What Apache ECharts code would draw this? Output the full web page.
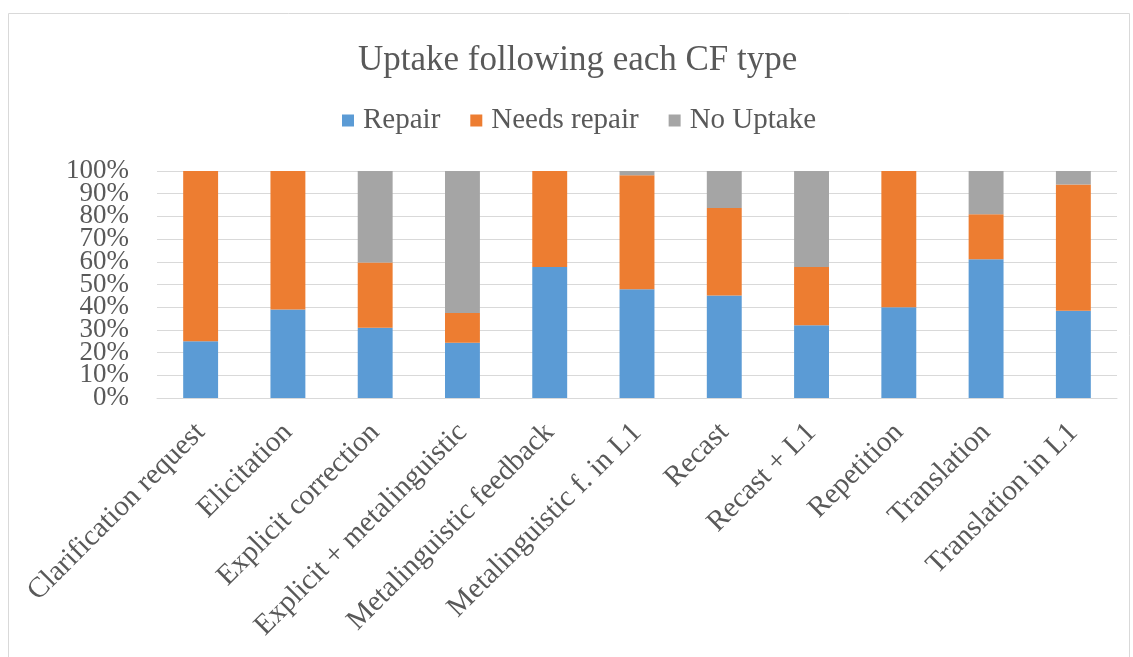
<!DOCTYPE html>
<html>
<head>
<meta charset="utf-8">
<script src="https://cdn.jsdelivr.net/npm/echarts@6/dist/echarts.min.js"></script>
<style>
  html, body { margin: 0; padding: 0; background: #fff; }
  #main { width: 1133px; height: 657px; }
</style>
</head>
<body>
<div id="main"></div>
<script>
// CF types on the x axis
var categories = [
    'Clarification request', 'Elicitation', 'Explicit correction',
    'Explicit + metalinguistic', 'Metalinguistic feedback', 'Metalinguistic f. in L1',
    'Recast', 'Recast + L1', 'Repetition', 'Translation', 'Translation in L1'
];
// shares in percent
var repair      = [25, 39, 31, 24.3, 57.7, 47.9, 45.2, 32, 40, 61.1, 38.4];
var needsRepair = [75, 61, 28.7, 13.1, 42.3, 50.2, 38.5, 25.7, 60, 19.9, 55.7];
var noUptake    = [0, 0, 40.3, 62.6, 0, 1.9, 16.3, 42.3, 0, 19, 5.9];

var serif = '"Liberation Serif", "DejaVu Serif", serif';
var textColor = '#595959';

var chart = echarts.init(document.getElementById('main'));

function makeSeries(name, data, color) {
    return {
        name: name,
        type: 'bar',
        stack: 'total',
        barWidth: '40%',
        yAxisIndex: 0,
        data: data,
        itemStyle: { color: color }
    };
}

var yLabel = {
    margin: 28,
    fontFamily: serif,
    fontSize: 27,
    color: textColor,
    formatter: '{value}%'
};

var option = {
    animation: false,
    textStyle: { fontFamily: serif },
    graphic: [{
        type: 'rect',
        shape: { x: 8.5, y: 13.5, width: 1121, height: 660 },
        style: { fill: 'none', stroke: '#d9d9d9', lineWidth: 1 },
        silent: true
    }],
    title: {
        text: 'Uptake following each CF type',
        left: 353,
        top: 38,
        textStyle: { fontFamily: serif, fontWeight: 'normal', fontSize: 35, color: textColor }
    },
    legend: {
        top: 101,
        left: 337,
        itemWidth: 12,
        itemHeight: 12,
        itemGap: 30,
        icon: 'rect',
        textStyle: { fontFamily: serif, fontSize: 29, color: textColor, padding: [0, 0, 0, 4] },
        data: ['Repair', 'Needs repair', 'No Uptake']
    },
    grid: {
        left: 157,
        right: 16,
        top: 171,
        bottom: 259,
        containLabel: false
    },
    xAxis: {
        type: 'category',
        data: categories,
        axisLine: { show: true, lineStyle: { color: '#d9d9d9', width: 1 } },
        axisTick: { show: false },
        axisLabel: {
            rotate: 45,
            interval: 0,
            margin: 30,
            fontFamily: serif,
            fontSize: 29,
            color: textColor
        }
    },
    yAxis: [
        {
            // 10% .. 90% plus the gridlines
            type: 'value',
            position: 'left',
            min: 0,
            max: 100,
            interval: 10,
            axisLine: { show: false },
            axisTick: { show: false },
            splitLine: { lineStyle: { color: '#d9d9d9', width: 1 } },
            axisLabel: Object.assign({ showMinLabel: false, showMaxLabel: false }, yLabel)
        },
        {
            // 0% and 100% only
            type: 'value',
            position: 'left',
            min: 0,
            max: 100,
            interval: 100,
            axisLine: { show: false },
            axisTick: { show: false },
            splitLine: { show: false },
            axisLabel: Object.assign({ showMinLabel: true, showMaxLabel: true }, yLabel)
        }
    ],
    series: [
        makeSeries('Repair', repair, '#5B9BD5'),
        makeSeries('Needs repair', needsRepair, '#ED7D31'),
        makeSeries('No Uptake', noUptake, '#A5A5A5')
    ]
};

chart.setOption(option);
</script>
</body>
</html>
